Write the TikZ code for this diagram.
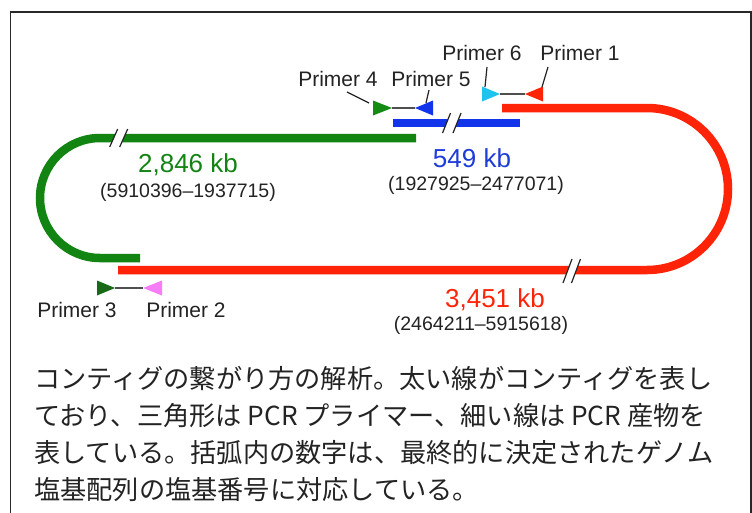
\documentclass[tikz,border=0pt]{standalone}
\usepackage{fontspec}
\setmainfont{Liberation Sans}
\newfontfamily\jpfont{Noto Sans CJK JP}
\definecolor{cgreen}{RGB}{18,132,18}
\definecolor{cred}{RGB}{255,36,8}
\definecolor{cblue}{RGB}{18,52,235}
\definecolor{lblue}{RGB}{30,60,215}
\definecolor{ccyan}{RGB}{30,195,238}
\definecolor{cpink}{RGB}{245,125,245}
\definecolor{dgreen}{RGB}{25,105,25}
\definecolor{pgreen}{RGB}{20,140,20}
\definecolor{ink}{RGB}{35,35,35}
\definecolor{frame}{RGB}{40,40,40}
\begin{document}
\begin{tikzpicture}[x=1pt,y=-1pt,
  contig/.style={line width=8.5pt},
  brk/.style={line width=1.2pt, ink},
  gap/.style={fill=white},
  prod/.style={line width=1.5pt, ink!80},
  lead/.style={line width=1.2pt, ink},
  plabel/.style={font=\fontsize{21}{24}\selectfont, text=ink, inner sep=0pt},
  kb/.style={font=\fontsize{26}{30}\selectfont, inner sep=0pt},
  poslabel/.style={font=\fontsize{19.5}{22}\selectfont, text=ink, inner sep=0pt},
  jp/.style={font=\jpfont\fontsize{26.2}{30}\selectfont, text=ink, inner sep=0pt, anchor=base west}]
\useasboundingbox (0,0) rectangle (752,512);
\clip (0,0) rectangle (752,512);
\fill[white] (0,0) rectangle (752,512);
\draw[line width=1.3pt, frame] (10.5,12) rectangle (751,540);

% contigs
\draw[contig, cgreen] (416,138) -- (100,138) arc[start angle=270, end angle=90, radius=60] -- (140,258);
\draw[contig, cred] (502,108) -- (647,108) arc[start angle=270, end angle=450, radius=81] -- (118,270);
\draw[contig, cblue] (393,123) -- (520,123);

% break marks
\fill[gap] (109.7,147) -- (117.7,129) -- (127.7,129) -- (119.7,147) -- cycle;
\draw[brk] (109.7,147) -- (117.7,129); \draw[brk] (119.7,147) -- (127.7,129);
\fill[gap] (442.5,133) -- (450.5,113) -- (461,113) -- (453,133) -- cycle;
\draw[brk] (442.5,133) -- (450.5,113); \draw[brk] (453,133) -- (461,113);
\fill[gap] (563,283) -- (572,259) -- (580.5,259) -- (571.5,283) -- cycle;
\draw[brk] (563,283) -- (572,259); \draw[brk] (571.5,283) -- (580.5,259);

% primers 4/5
\coordinate (p4tip) at (392,108);
\coordinate (p5tip) at (415,108);
\draw[prod] (p4tip) -- (p5tip);
\fill[pgreen] (373,100.5) -- (p4tip) -- (373,115.5) -- cycle;
\fill[cblue] (433,100.5) -- (p5tip) -- (433,115.5) -- cycle;
% primers 6/1
\coordinate (p6tip) at (500,94);
\coordinate (p1tip) at (525,94);
\draw[prod] (p6tip) -- (p1tip);
\fill[ccyan] (482,86.5) -- (p6tip) -- (482,101.5) -- cycle;
\fill[cred] (543,86.5) -- (p1tip) -- (543,101.5) -- cycle;
% primers 3/2
\coordinate (p3tip) at (115,288);
\coordinate (p2tip) at (143,288);
\draw[prod] (p3tip) -- (p2tip);
\fill[dgreen] (97,280.5) -- (p3tip) -- (97,295.5) -- cycle;
\fill[cpink] (162,280.5) -- (p2tip) -- (162,295.5) -- cycle;

% primer labels
\node[plabel] (l4) at (338,79) {Primer 4};
\node[plabel] (l5) at (431,79) {Primer 5};
\node[plabel] (l6) at (482,53) {Primer 6};
\node[plabel] (l1) at (580,53) {Primer 1};
\node[plabel] (l3) at (77,310) {Primer 3};
\node[plabel] (l2) at (186,310) {Primer 2};

% leaders
\coordinate (e4) at (369,103); \coordinate (s4) at (347,92);
\coordinate (e5) at (426,103); \coordinate (s5) at (429,90);
\coordinate (e6) at (485,87);  \coordinate (s6) at (487,67);
\coordinate (e1) at (542,87);  \coordinate (s1) at (548,67);
\draw[lead] (s4) -- (e4);
\draw[lead] (s5) -- (e5);
\draw[lead] (s6) -- (e6);
\draw[lead] (s1) -- (e1);

% length labels
\node[kb, text=cgreen] (g1) at (188,165) {2,846 kb};
\node[poslabel] (g2) at (188,192) {(5910396–1937715)};
\node[kb, text=lblue] (b1) at (472,158) {549 kb};
\node[poslabel] (b2) at (476,185) {(1927925–2477071)};
\node[kb, text=cred] (r1) at (495,300) {3,451 kb};
\node[poslabel] (r2) at (481,325) {(2464211–5915618)};

% caption
\node[jp] (c1) at (34,388) {コンティグの繋がり方の解析。太い線がコンティグを表し};
\node[jp] (c2) at (34,425) {ており、三角形は PCR プライマー、細い線は PCR 産物を};
\node[jp] (c3) at (34,462) {表している。括弧内の数字は、最終的に決定されたゲノム};
\node[jp] (c4) at (34,499) {塩基配列の塩基番号に対応している。};
\end{tikzpicture}
\end{document}
